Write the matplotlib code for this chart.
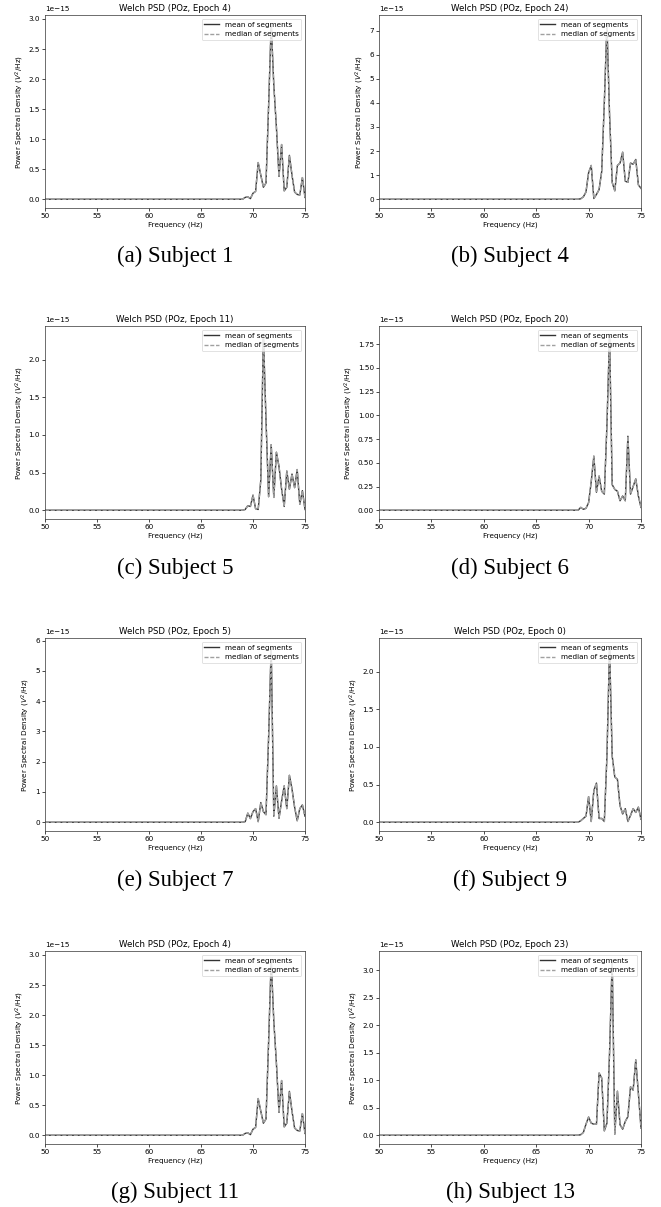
import matplotlib
matplotlib.use('Agg')
import numpy as np
import matplotlib.pyplot as plt

# frequency grid (Hz): flat floor from 50 Hz, then the 69-75 Hz band
freqs = [50.0, 69.0, 69.25, 69.5, 69.75, 70.0, 70.25, 70.5, 70.75, 71.0, 71.25,
         71.5, 71.75, 72.0, 72.25, 72.5, 72.75, 73.0, 73.25, 73.5, 73.75,
         74.0, 74.25, 74.5, 74.75, 75.0]

# PSD values in units of 1e-15 V^2/Hz
psd_s1 = [0, 0, 0.03, 0.04, 0.01, 0.10, 0.13, 0.61, 0.40, 0.20, 0.27, 1.55, 2.92,
          1.90, 1.20, 0.38, 0.91, 0.14, 0.20, 0.73, 0.40, 0.12, 0.08, 0.07, 0.36, 0.03]
psd_s4 = [0, 0, 0.02, 0.10, 0.30, 1.10, 1.40, 0.03, 0.20, 0.40, 1.15, 4.00, 7.28,
          3.50, 0.70, 0.35, 1.40, 1.50, 1.95, 0.75, 0.70, 1.50, 1.45, 1.65, 0.60, 0.45]
psd_s5 = [0, 0, 0.01, 0.06, 0.05, 0.20, 0.02, 0.01, 0.40, 2.33, 1.20, 0.18, 0.87,
          0.17, 0.77, 0.58, 0.28, 0.05, 0.52, 0.28, 0.48, 0.30, 0.54, 0.08, 0.26, 0.01]
psd_s6 = [0, 0, 0.03, 0.01, 0.02, 0.08, 0.30, 0.57, 0.19, 0.36, 0.20, 0.17, 0.90,
          1.85, 0.27, 0.22, 0.20, 0.10, 0.15, 0.10, 0.78, 0.17, 0.25, 0.33, 0.15, 0.03]
psd_s7 = [0, 0, 0.02, 0.30, 0.12, 0.35, 0.45, 0.02, 0.65, 0.35, 0.25, 2.80, 5.80,
          0.20, 1.20, 0.13, 0.70, 1.20, 0.45, 1.55, 1.10, 0.50, 0.05, 0.45, 0.57, 0.20]
psd_s9 = [0, 0, 0.02, 0.05, 0.08, 0.34, 0.01, 0.42, 0.52, 0.05, 0.05, 0.01, 0.88,
          2.33, 0.88, 0.60, 0.57, 0.22, 0.11, 0.18, 0.01, 0.09, 0.18, 0.13, 0.20, 0.04]
psd_s11 = psd_s1  # same epoch/figure as subject 1
psd_s13 = [0, 0, 0.01, 0.05, 0.20, 0.33, 0.22, 0.20, 0.20, 1.13, 1.04, 0.08, 0.22,
           1.50, 3.19, 0.02, 0.80, 0.19, 0.11, 0.25, 0.34, 0.88, 0.82, 1.37, 0.76, 0.13]

letters = ['a', 'b', 'c', 'd', 'e', 'f', 'g', 'h']
subjects = [1, 4, 5, 6, 7, 9, 11, 13]
epochs = [4, 24, 11, 20, 5, 0, 4, 23]
series = [psd_s1, psd_s4, psd_s5, psd_s6, psd_s7, psd_s9, psd_s11, psd_s13]

s = 0.52  # shrink factor of the embedded sub-figures
plt.rcParams.update({
    'font.family': 'DejaVu Sans',
    'font.size': 10 * s,
    'axes.titlesize': 12 * s,
    'axes.titlepad': 6 * s,
    'axes.labelpad': 4 * s,
    'axes.linewidth': 0.5,
    'axes.edgecolor': '#333333',
    'patch.linewidth': 0.5,
    'lines.linewidth': 1.0,
    'lines.dashed_pattern': (2.9, 1.25),
    'xtick.major.size': 3.5 * s,
    'ytick.major.size': 3.5 * s,
    'xtick.major.width': 0.5,
    'ytick.major.width': 0.5,
    'xtick.major.pad': 3.5 * s,
    'ytick.major.pad': 3.5 * s,
})

W, H = 661, 1207
fig = plt.figure(figsize=(W / 100, H / 100), dpi=100)

col_lr = [(45, 305), (379, 641)]
row_tb = [(15, 208), (326, 519), (638, 831), (951, 1144)]
cap_base = [262, 574, 886, 1198]

for i in range(8):
    r, c = divmod(i, 2)
    l, rr = col_lr[c]
    t, b = row_tb[r]
    ax = fig.add_axes([l / W, 1 - b / H, (rr - l) / W, (b - t) / H])
    y = np.array(series[i]) * 1e-15
    ax.plot(freqs, y, color='#333333', ls='-', label='mean of segments')
    ax.plot(freqs, y, color='#a0a0a0', ls='--', label='median of segments')
    ax.set_xlim(50, 75)
    ax.set_xticks([50, 55, 60, 65, 70, 75])
    ax.set_title(f"Welch PSD (POz, Epoch {epochs[i]})")
    ax.set_xlabel("Frequency (Hz)")
    ax.set_ylabel("Power Spectral Density ($V^2$/Hz)")
    ax.legend(loc='upper right')
    fig.text((l + rr) / 2 / W, 1 - cap_base[r] / H,
             f"({letters[i]}) Subject {subjects[i]}",
             ha='center', va='baseline', family='Liberation Serif', fontsize=16.4)

fig.savefig('out.png', dpi=100)
